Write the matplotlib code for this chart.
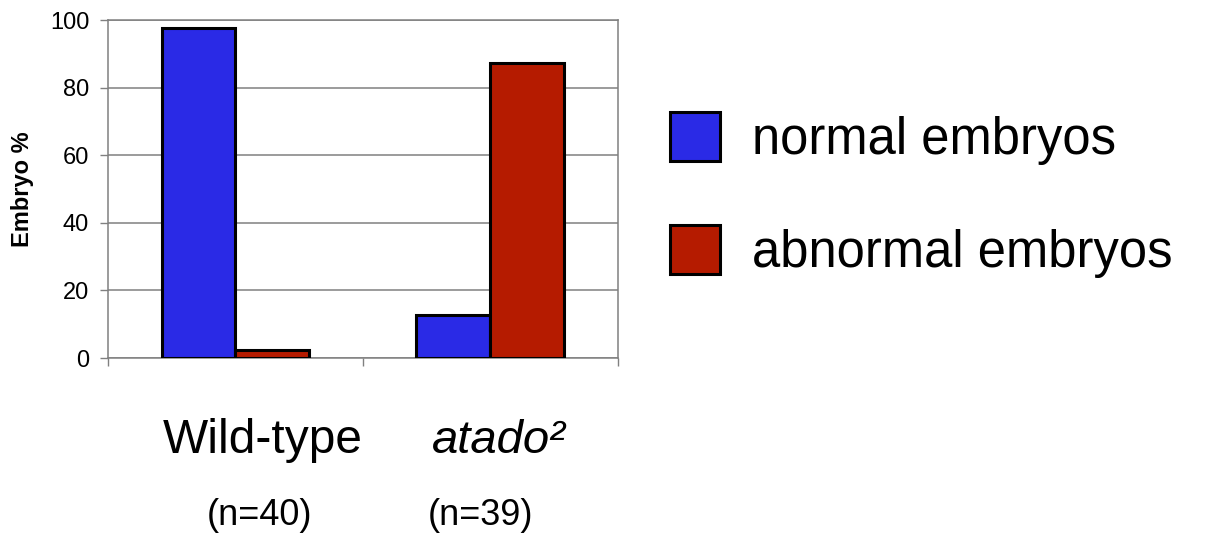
import numpy as np
import matplotlib
matplotlib.use('Agg')
import matplotlib.pyplot as plt

plt.rcParams['font.family'] = ['Liberation Sans', 'DejaVu Sans']

# data (percent of embryos)
groups = ['Wild-type', 'atado²']
counts = ['(n=40)', '(n=39)']
normal = [97.5, 12.8]
abnormal = [2.5, 87.2]
series_names = ['normal embryos', 'abnormal embryos']

blue = '#2a2ae6'
red = '#b51b00'

fig = plt.figure(figsize=(12.05, 5.35), dpi=100)
ax = fig.add_axes([0.0896, 0.3308, 0.4232, 0.6318])

x = np.arange(len(groups))
w = 0.29
b1 = ax.bar(x - w / 2, normal, w, color=blue, edgecolor='black', linewidth=2.2,
            label=series_names[0], zorder=3)
b2 = ax.bar(x + w / 2, abnormal, w, color=red, edgecolor='black', linewidth=2.2,
            label=series_names[1], zorder=3)

ax.set_xlim(-0.5, 1.5)
ax.set_ylim(0, 100)
ax.set_yticks([0, 20, 40, 60, 80, 100])
ax.set_xticks([-0.5, 0.5, 1.5])
ax.set_xticklabels([])
ax.yaxis.grid(True, color='#808080', linewidth=1.1, zorder=0)
ax.tick_params(axis='y', direction='out', length=6, width=1, color='#808080',
               labelsize=17, pad=7.5)
ax.tick_params(axis='x', direction='out', length=5.5, width=1, color='#808080')
for s in ax.spines.values():
    s.set_color('#808080')
    s.set_linewidth(1.1)

ax.set_ylabel('Embryo %', fontsize=17, fontweight='bold')
ax.yaxis.set_label_coords(-0.145, 0.5)

# category labels below the axis
fig.text(163 / 1205, 1 - 453 / 535, groups[0], fontsize=34.5, ha='left', va='baseline')
fig.text(432 / 1205, 1 - 453 / 535, groups[1], fontsize=34, style='italic',
         ha='left', va='baseline')
fig.text(207 / 1205, 1 - 525 / 535, counts[0], fontsize=26, ha='left', va='baseline')
fig.text(428 / 1205, 1 - 525 / 535, counts[1], fontsize=26, ha='left', va='baseline')

fig.legend(handles=[b1, b2], labels=series_names, loc='center left',
           bbox_to_anchor=(670 / 1205, 1 - 195 / 535), bbox_transform=fig.transFigure,
           frameon=False, fontsize=36.5, handlelength=0.99, handleheight=1.1,
           handletextpad=0.63, labelspacing=1.2, borderpad=0, borderaxespad=0)

fig.savefig('out.png', dpi=100)
